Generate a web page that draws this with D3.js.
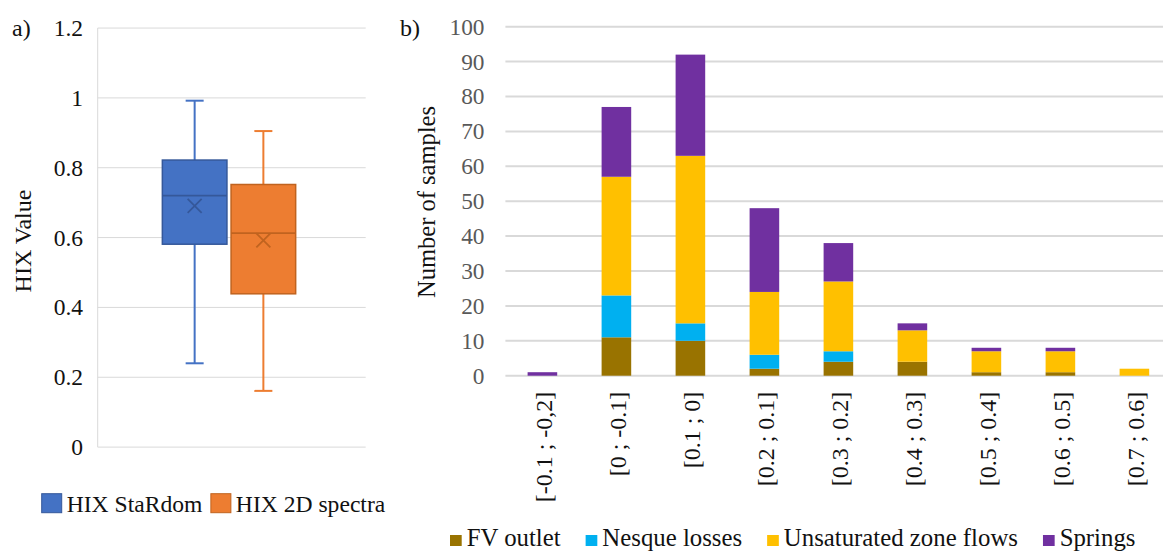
<!DOCTYPE html>
<html>
<head>
<meta charset="utf-8">
<script src="https://cdn.jsdelivr.net/npm/d3@7"></script>
<style>
  html, body { margin: 0; padding: 0; background: #fff; }
  svg, svg text { font-family: 'Liberation Serif', 'Times New Roman', 'DejaVu Serif', serif !important; }
</style>
</head>
<body>
<svg id="chart" width="1163" height="551"></svg>
<script>
// ---------- Panel a) box plot data ----------
const boxSeries = ["HIX StaRdom", "HIX 2D spectra"];
const boxColors = ["#4472C4", "#ED7D31"];
const boxDark = ["#35589a", "#c0631f"];
const whiskerMin = [0.240, 0.161];
const q1 = [0.581, 0.439];
const median = [0.720, 0.613];
const q3 = [0.822, 0.752];
const whiskerMax = [0.992, 0.905];
const mean = [0.691, 0.592];
const leftTicks = [0, 0.2, 0.4, 0.6, 0.8, 1, 1.2];

// ---------- Panel b) stacked bar data ----------
const categories = ["[-0.1 ; -0,2]", "[0 ; -0.1]", "[0.1 ; 0]", "[0.2 ; 0.1]", "[0.3 ; 0.2]",
                    "[0.4 ; 0.3]", "[0.5 ; 0.4]", "[0.6 ; 0.5]", "[0.7 ; 0.6]"];
const seriesNames = ["FV outlet", "Nesque losses", "Unsaturated zone flows", "Springs"];
const seriesColors = ["#997300", "#00B0F0", "#FFC000", "#7030A0"];
const fvOutlet      = [0, 11, 10, 2, 4, 4, 1, 1, 0];
const nesqueLosses  = [0, 12, 5, 4, 3, 0, 0, 0, 0];
const unsatFlows    = [0, 34, 48, 18, 20, 9, 6, 6, 2];
const springs       = [1, 20, 29, 24, 11, 2, 1, 1, 0];
const rightTicks = [0, 10, 20, 30, 40, 50, 60, 70, 80, 90, 100];

const svg = d3.select("#chart");
svg.append("rect").attr("width", 1163).attr("height", 551).attr("fill", "#fff");

// =============== Panel a ===============
const aLeft = 97.7, aRight = 365.7;
const yA = d3.scaleLinear().domain([0, 1.2]).range([447.1, 28.05]);
const xA = d3.scaleBand().domain(boxSeries).range([aLeft, aRight])
  .paddingInner(0.06).paddingOuter(0.98).align(0.48);

const gA = svg.append("g");
gA.selectAll("line.grid").data(leftTicks).join("line")
  .attr("x1", aLeft).attr("x2", aRight)
  .attr("y1", d => yA(d)).attr("y2", d => yA(d))
  .attr("stroke", "#d9d9d9").attr("stroke-width", 1);
gA.append("line").attr("x1", aLeft).attr("x2", aLeft)
  .attr("y1", yA(1.2)).attr("y2", yA(0))
  .attr("stroke", "#d9d9d9").attr("stroke-width", 1);
const yAxisA = d3.axisLeft(yA).tickValues(leftTicks).tickSize(0).tickPadding(0)
  .tickFormat(d => String(+d.toFixed(1)));
const axA = gA.append("g").attr("transform", "translate(83,0)").call(yAxisA);
axA.select(".domain").remove();
axA.selectAll("text").attr("font-size", 23.5).attr("fill", "#111");

boxSeries.forEach((s, i) => {
  const x0 = xA(s), bw = xA.bandwidth(), cx = x0 + bw / 2, cap = 9;
  const g = gA.append("g");
  g.append("line").attr("x1", cx).attr("x2", cx).attr("y1", yA(q3[i])).attr("y2", yA(whiskerMax[i]))
    .attr("stroke", boxColors[i]).attr("stroke-width", 2);
  g.append("line").attr("x1", cx).attr("x2", cx).attr("y1", yA(q1[i])).attr("y2", yA(whiskerMin[i]))
    .attr("stroke", boxColors[i]).attr("stroke-width", 2);
  g.append("line").attr("x1", cx - cap).attr("x2", cx + cap).attr("y1", yA(whiskerMax[i])).attr("y2", yA(whiskerMax[i]))
    .attr("stroke", boxColors[i]).attr("stroke-width", 2);
  g.append("line").attr("x1", cx - cap).attr("x2", cx + cap).attr("y1", yA(whiskerMin[i])).attr("y2", yA(whiskerMin[i]))
    .attr("stroke", boxColors[i]).attr("stroke-width", 2);
  g.append("rect").attr("x", x0).attr("y", yA(q3[i])).attr("width", bw)
    .attr("height", yA(q1[i]) - yA(q3[i]))
    .attr("fill", boxColors[i]).attr("stroke", boxDark[i]).attr("stroke-width", 1.5);
  g.append("line").attr("x1", x0).attr("x2", x0 + bw).attr("y1", yA(median[i])).attr("y2", yA(median[i]))
    .attr("stroke", boxDark[i]).attr("stroke-width", 1.8);
  const my = yA(mean[i]), h = 7;
  g.append("path").attr("d", `M${cx - h},${my - h}L${cx + h},${my + h}M${cx - h},${my + h}L${cx + h},${my - h}`)
    .attr("stroke", boxDark[i]).attr("stroke-width", 1.8).attr("fill", "none");
});

gA.append("text").attr("transform", "translate(31,241) rotate(-90)")
  .attr("text-anchor", "middle").attr("font-size", 24).attr("fill", "#111").text("HIX Value");
gA.append("text").attr("x", 12).attr("y", 36).attr("font-size", 24).attr("fill", "#111").text("a)");

{
  let x = 41.7;
  const gl = gA.append("g");
  boxSeries.forEach((s, i) => {
    gl.append("rect").attr("x", x).attr("y", 493.7).attr("width", 20).attr("height", 19)
      .attr("fill", boxColors[i]).attr("stroke", boxDark[i]).attr("stroke-width", 1);
    const t = gl.append("text").attr("x", x + 25).attr("y", 512).attr("font-size", 23.6)
      .attr("fill", "#111").text(s);
    x = x + 25 + t.node().getComputedTextLength() + 8.5;
  });
}

// =============== Panel b ===============
const bLeft = 505.4;
const yB = d3.scaleLinear().domain([0, 100]).range([375.7, 26.7]);
const xB = d3.scaleBand().domain(categories).range([bLeft, bLeft + 666])
  .paddingInner(0.6).paddingOuter(0.3);
const gB = svg.append("g");

gB.selectAll("line.grid").data(rightTicks).join("line")
  .attr("x1", bLeft).attr("x2", 1180)
  .attr("y1", d => yB(d)).attr("y2", d => yB(d))
  .attr("stroke", "#d9d9d9").attr("stroke-width", 2);

const yAxisB = d3.axisLeft(yB).tickValues(rightTicks).tickSize(0).tickPadding(0);
const axB = gB.append("g").attr("transform", "translate(484.5,0)").call(yAxisB);
axB.select(".domain").remove();
axB.selectAll("text").attr("font-size", 23.3).attr("fill", "#595959");

const table = categories.map((c, i) => ({
  cat: c, "FV outlet": fvOutlet[i], "Nesque losses": nesqueLosses[i],
  "Unsaturated zone flows": unsatFlows[i], "Springs": springs[i]
}));
const stacked = d3.stack().keys(seriesNames)(table);
gB.selectAll("g.series").data(stacked).join("g")
  .attr("fill", (d, i) => seriesColors[i])
  .selectAll("rect").data(d => d).join("rect")
  .attr("x", d => xB(d.data.cat)).attr("width", xB.bandwidth())
  .attr("y", d => yB(d[1])).attr("height", d => yB(d[0]) - yB(d[1]));

const xAxisB = d3.axisBottom(xB).tickSize(0).tickPadding(0);
const axXB = gB.append("g").attr("transform", "translate(0,375.7)").call(xAxisB);
axXB.select(".domain").remove();
axXB.selectAll("text")
  .attr("transform", "translate(1.5,16) rotate(-90)")
  .attr("x", 0).attr("y", 0).attr("dy", "0.35em")
  .attr("text-anchor", "end").attr("font-size", 24).attr("fill", "#111");

gB.append("text").attr("transform", "translate(435,202) rotate(-90)")
  .attr("text-anchor", "middle").attr("font-size", 24.5).attr("fill", "#111").text("Number of samples");
gB.append("text").attr("x", 400).attr("y", 36).attr("font-size", 24).attr("fill", "#111").text("b)");

{
  let x = 450;
  const gl = gB.append("g");
  seriesNames.forEach((s, i) => {
    gl.append("rect").attr("x", x).attr("y", 535).attr("width", 11.7).attr("height", 11)
      .attr("fill", seriesColors[i]);
    const t = gl.append("text").attr("x", x + 16.7).attr("y", 546).attr("font-size", 24.8)
      .attr("fill", "#111").text(s);
    x = x + 16.7 + t.node().getComputedTextLength() + 25;
  });
}
</script>
</body>
</html>
